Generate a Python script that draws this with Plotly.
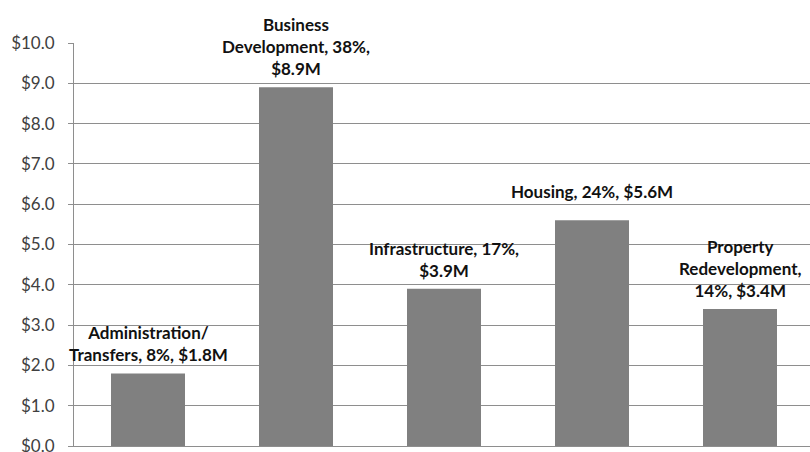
import plotly.graph_objects as go

# Program spending by category ($ millions)
categories = ["Administration/Transfers", "Business Development", "Infrastructure",
              "Housing", "Property Redevelopment"]
values = [1.8, 8.9, 3.9, 5.6, 3.4]
percents = ["8%", "38%", "17%", "24%", "14%"]
# Data-label text, split into lines the way it is wrapped above each bar
label_lines = [
    ["Administration/", "Transfers, 8%, $1.8M"],
    ["Business", "Development, 38%,", "$8.9M"],
    ["Infrastructure, 17%,", "$3.9M"],
    ["Housing, 24%, $5.6M"],
    ["Property", "Redevelopment,", "14%, $3.4M"],
]
tick_vals = [0, 1, 2, 3, 4, 5, 6, 7, 8, 9, 10]
tick_text = ["$%.1f" % v for v in tick_vals]

bar_color = "#808080"
grid_color = "#8e8e8e"
text_color = "#404040"
font_family = "Lato, 'Open Sans', sans-serif"

# vertical gap (px) between each bar top and its label
label_gaps = [6, 6, 6, 16, 6]

fig = go.Figure()
fig.add_trace(go.Bar(
    x=categories,
    y=values,
    marker=dict(color=bar_color, line=dict(width=0)),
    width=0.5,
    hoverinfo="skip",
))

for cat, val, lines, gap in zip(categories, values, label_lines, label_gaps):
    fig.add_annotation(
        x=cat, y=val,
        text="<br>".join(lines),
        showarrow=False,
        xanchor="center", yanchor="bottom",
        yshift=gap,
        font=dict(family=font_family, size=17, color="#111111", weight="bold"),
        align="center",
    )

fig.update_layout(
    width=810, height=452,
    margin=dict(l=74, r=0, t=43, b=6, autoexpand=False),
    paper_bgcolor="white",
    plot_bgcolor="white",
    showlegend=False,
    bargap=0.5,
    font=dict(family=font_family, color=text_color),
)

fig.update_xaxes(
    range=[-0.5, 4.473],
    showticklabels=False,
    showgrid=False,
    showline=True, linecolor=grid_color, linewidth=1,
    ticks="",
    automargin=False,
    fixedrange=True,
)
fig.update_yaxes(
    range=[0, 10],
    tickvals=tick_vals,
    ticktext=tick_text,
    tickfont=dict(family=font_family, size=17, color=text_color),
    showgrid=True, gridcolor=grid_color, gridwidth=1,
    showline=True, linecolor=grid_color, linewidth=1,
    ticks="outside", ticklen=5, tickcolor=grid_color,
    ticklabelstandoff=10,
    ticklabeloverflow="allow",
    automargin=False,
    zeroline=False,
    fixedrange=True,
)

fig.write_html("out.html")
